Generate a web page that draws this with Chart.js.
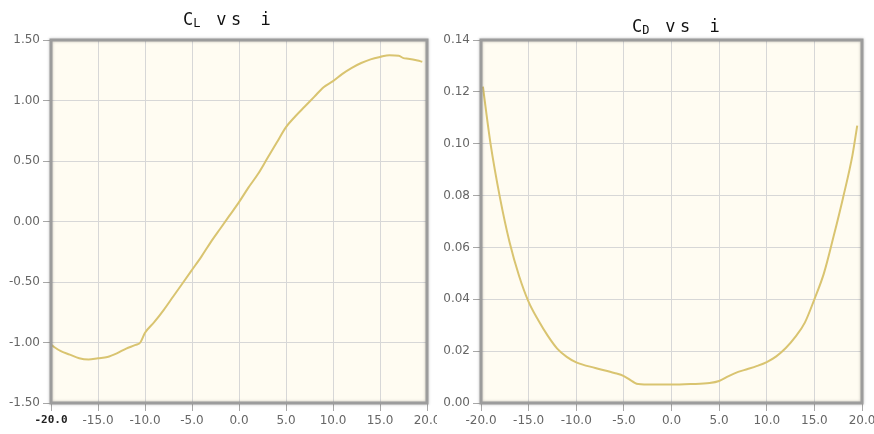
<!DOCTYPE html>
<html>
<head>
<meta charset="utf-8">
<script src="https://cdn.jsdelivr.net/npm/chart.js@4.4.0/dist/chart.umd.min.js"></script>
<style>
  body { margin: 0; background: #fff; }
  #wrap { position: relative; width: 874px; height: 434px; overflow: hidden; }
  .box { position: absolute; top: 0; width: 437px; height: 434px; }
  .title { position: absolute; font-family: "DejaVu Sans Mono", monospace; font-size: 17px;
           letter-spacing: 4.5px; color: #111; white-space: pre; line-height: 17px; }
  .title .c { letter-spacing: 0; }
  .title sub { font-size: 12px; vertical-align: -2px; letter-spacing: 1px; }
</style>
</head>
<body>
<div id="wrap">
  <div class="box" style="left:0"><canvas id="clChart" width="437" height="434"></canvas></div>
  <div class="box" style="left:437px"><canvas id="cdChart" width="437" height="434"></canvas></div>
  <div class="title" style="left:183px; top:11px"><span class="c">C</span><sub>L</sub> vs i</div>
  <div class="title" style="left:632px; top:18px"><span class="c">C</span><sub>D</sub> vs i</div>
</div>
<script>
// lift coefficient vs incidence
const clAngle = [-20, -19, -18, -17, -16, -15, -14, -13, -12, -11, -10.5, -10, -9, -8, -7, -6, -5, -4, -3, -2, -1,
  0, 1, 2, 3, 4, 5, 6, 7, 8, 9, 10, 11, 12, 13, 14, 15, 16, 17, 17.5, 18, 19, 19.5];
const clValues = [-1.02, -1.07, -1.10, -1.13, -1.14, -1.13, -1.12, -1.09, -1.05, -1.02, -1.00, -0.92, -0.83, -0.73, -0.62, -0.51, -0.40, -0.29, -0.17, -0.06, 0.05,
  0.16, 0.28, 0.39, 0.52, 0.65, 0.78, 0.87, 0.95, 1.03, 1.11, 1.16, 1.22, 1.27, 1.31, 1.34, 1.36, 1.375, 1.37, 1.35, 1.345, 1.33, 1.32];

// drag coefficient vs incidence
const cdAngle = [-19.8, -19, -18, -17, -16, -15, -14, -13, -12, -11, -10, -8, -6, -5, -4, -3.5, -2, 0, 2, 4, 5,
  6, 7, 8, 9, 10, 11, 12, 13, 14, 15, 16, 17, 18, 19, 19.5];
const cdValues = [0.122, 0.100, 0.079, 0.062, 0.049, 0.039, 0.032, 0.026, 0.021, 0.0178, 0.0157, 0.0135, 0.0116, 0.0104, 0.0081, 0.0073, 0.0071, 0.0071, 0.0073, 0.0077, 0.0085,
  0.0104, 0.012, 0.0131, 0.0143, 0.0158, 0.018, 0.0212, 0.0255, 0.031, 0.040, 0.050, 0.064, 0.079, 0.0956, 0.107];

const xTicks = [-20, -15, -10, -5, 0, 5, 10, 15, 20];

const lineColor = "#d9c470";
const gridColor = "#d7d7d7";
const tickFont = { family: "DejaVu Sans", size: 12 };

const framePlugin = {
  id: "frame",
  beforeDraw(chart) {
    const a = chart.chartArea;
    const ctx = chart.ctx;
    ctx.save();
    ctx.fillStyle = "#fffcf2";
    ctx.fillRect(a.left, a.top, a.right - a.left, a.bottom - a.top);
    ctx.restore();
  },
  afterDraw(chart) {
    const a = chart.chartArea;
    const ctx = chart.ctx;
    ctx.save();
    ctx.shadowColor = "rgba(0,0,0,0.25)";
    ctx.shadowBlur = 3;
    ctx.strokeStyle = "#9c9c9c";
    ctx.lineWidth = 3;
    ctx.strokeRect(a.left, a.top, a.right - a.left, a.bottom - a.top);
    ctx.restore();
  }
};

function makeChart(id, xs, ys, yMin, yMax, yStep, yDigits, yWidth, padRight, firstOdd) {
  const points = xs.map((x, i) => ({ x: x, y: ys[i] }));
  return new Chart(document.getElementById(id), {
    type: "line",
    data: {
      datasets: [{
        data: points,
        borderColor: lineColor,
        borderWidth: 2,
        pointRadius: 0,
        cubicInterpolationMode: "monotone",
        fill: false
      }]
    },
    options: {
      responsive: false,
      animation: false,
      layout: { padding: { top: 40, right: padRight, left: 0, bottom: 0 } },
      plugins: { legend: { display: false }, tooltip: { enabled: false } },
      scales: {
        x: {
          type: "linear",
          min: -20,
          max: 20,
          afterBuildTicks: s => { s.ticks = xTicks.map(v => ({ value: v })); },
          afterFit: s => { s.height = 31; s.paddingLeft = 0; s.paddingRight = 0; },
          grid: { color: gridColor, tickColor: "#a8a8a8", tickLength: 8 },
          border: { display: false },
          ticks: {
            padding: 3,
            maxRotation: 0,
            autoSkip: false,
            font: c => (firstOdd && c.index === 0) ? { family: "DejaVu Sans Mono", size: 11, weight: "bold" } : tickFont,
            color: c => (firstOdd && c.index === 0) ? "#222" : "#666",
            callback: v => Number(v).toFixed(1)
          }
        },
        y: {
          min: yMin,
          max: yMax,
          afterFit: s => { s.width = yWidth; s.paddingTop = 0; s.paddingBottom = 0; },
          grid: { color: gridColor, tickColor: "#a8a8a8", tickLength: 8 },
          border: { display: false },
          ticks: {
            stepSize: yStep,
            padding: 3,
            font: tickFont,
            color: "#666",
            callback: v => Number(v).toFixed(yDigits)
          }
        }
      }
    },
    plugins: [framePlugin]
  });
}

makeChart("clChart", clAngle, clValues, -1.5, 1.5, 0.5, 2, 51, 10, true);
makeChart("cdChart", cdAngle, cdValues, 0, 0.14, 0.02, 2, 44, 12, false);
</script>
</body>
</html>
